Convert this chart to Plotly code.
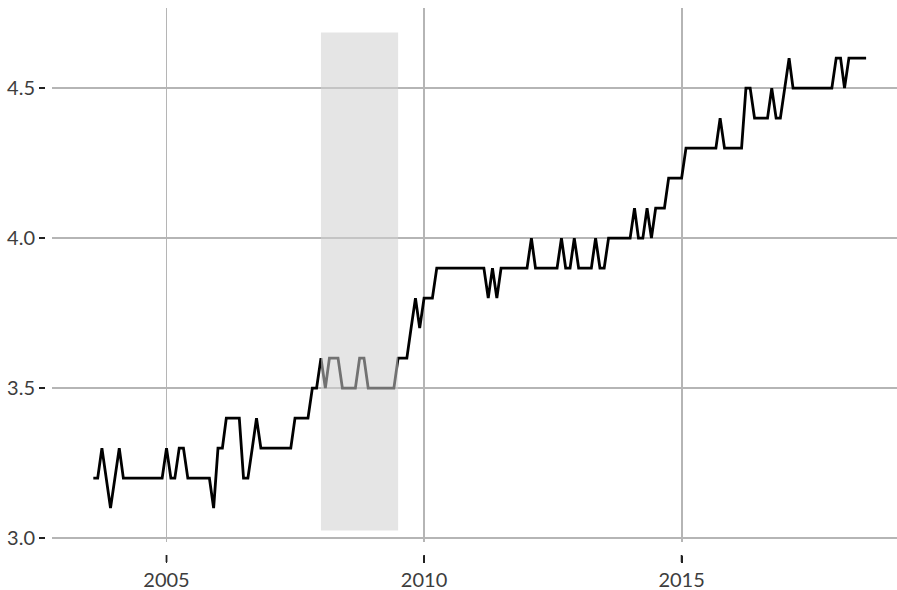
import pandas as pd
import plotly.graph_objects as go

# ---- data ----
start_month = "2003-08-01"
values = [
    3.2, 3.2, 3.3, 3.2, 3.1,                                      # 2003 Aug-Dec
    3.2, 3.3, 3.2, 3.2, 3.2, 3.2, 3.2, 3.2, 3.2, 3.2, 3.2, 3.2,  # 2004
    3.3, 3.2, 3.2, 3.3, 3.3, 3.2, 3.2, 3.2, 3.2, 3.2, 3.2, 3.1,  # 2005
    3.3, 3.3, 3.4, 3.4, 3.4, 3.4, 3.2, 3.2, 3.3, 3.4, 3.3, 3.3,  # 2006
    3.3, 3.3, 3.3, 3.3, 3.3, 3.3, 3.4, 3.4, 3.4, 3.4, 3.5, 3.5,  # 2007
    3.6, 3.5, 3.6, 3.6, 3.6, 3.5, 3.5, 3.5, 3.5, 3.6, 3.6, 3.5,  # 2008
    3.5, 3.5, 3.5, 3.5, 3.5, 3.5, 3.6, 3.6, 3.6, 3.7, 3.8, 3.7,  # 2009
    3.8, 3.8, 3.8, 3.9, 3.9, 3.9, 3.9, 3.9, 3.9, 3.9, 3.9, 3.9,  # 2010
    3.9, 3.9, 3.9, 3.8, 3.9, 3.8, 3.9, 3.9, 3.9, 3.9, 3.9, 3.9,  # 2011
    3.9, 4.0, 3.9, 3.9, 3.9, 3.9, 3.9, 3.9, 4.0, 3.9, 3.9, 4.0,  # 2012
    3.9, 3.9, 3.9, 3.9, 4.0, 3.9, 3.9, 4.0, 4.0, 4.0, 4.0, 4.0,  # 2013
    4.0, 4.1, 4.0, 4.0, 4.1, 4.0, 4.1, 4.1, 4.1, 4.2, 4.2, 4.2,  # 2014
    4.2, 4.3, 4.3, 4.3, 4.3, 4.3, 4.3, 4.3, 4.3, 4.4, 4.3, 4.3,  # 2015
    4.3, 4.3, 4.3, 4.5, 4.5, 4.4, 4.4, 4.4, 4.4, 4.5, 4.4, 4.4,  # 2016
    4.5, 4.6, 4.5, 4.5, 4.5, 4.5, 4.5, 4.5, 4.5, 4.5, 4.5, 4.5,  # 2017
    4.6, 4.6, 4.5, 4.6, 4.6, 4.6, 4.6, 4.6,                      # 2018 Jan-Aug
]
dates = pd.date_range(start_month, periods=len(values), freq="MS")

recession_start = "2008-01-01"
recession_end = "2009-07-01"
recession_low = 3.025
recession_high = 4.685

x_tick_vals = ["2005-01-01", "2010-01-01", "2015-01-01"]
x_tick_text = ["2005", "2010", "2015"]
y_tick_vals = [3.0, 3.5, 4.0, 4.5]
y_tick_text = ["3.0", "3.5", "4.0", "4.5"]

x_range = ["2002-10-12", "2019-03-08"]
y_range = [2.987, 4.767]

# ---- figure ----
fig = go.Figure()
fig.add_trace(go.Scatter(
    x=dates, y=values, mode="lines",
    line=dict(color="black", width=2.8),
    hoverinfo="skip", showlegend=False,
))
# empty helper trace that only carries the separated x tick axis
fig.add_trace(go.Scatter(
    x=[], y=[], xaxis="x2", yaxis="y2", mode="lines",
    hoverinfo="skip", showlegend=False,
))

fig.add_shape(
    type="rect", xref="x", yref="y",
    x0=recession_start, x1=recession_end,
    y0=recession_low, y1=recession_high,
    fillcolor="rgb(208,208,208)", opacity=0.55,
    line=dict(width=0), layer="above",
)

# small x tick marks below the panel, placed at the tick values
for tv in x_tick_vals:
    fig.add_shape(
        type="line", xref="x2", yref="paper",
        x0=tv, x1=tv, y0=0, y1=-0.013,
        line=dict(color="#222", width=1.8), layer="above",
    )

font_family = "Lato, 'Open Sans', sans-serif"
grid_color = "#b5b5b5"
x_domain = [0.0082, 1]
fig.update_layout(
    width=897, height=590,
    margin=dict(l=45, r=0, t=8, b=35),
    paper_bgcolor="white", plot_bgcolor="white",
    font=dict(family=font_family, size=20, color="#3d3d3d"),
    xaxis=dict(
        type="date", domain=x_domain, range=x_range,
        tickvals=x_tick_vals, showticklabels=False, ticks="",
        showgrid=True, gridcolor=grid_color, gridwidth=1.8,
        zeroline=False, showline=False, anchor="y",
    ),
    xaxis2=dict(
        type="date", domain=x_domain, range=x_range,
        tickvals=x_tick_vals, ticktext=x_tick_text,
        showgrid=False, zeroline=False, showline=False,
        ticks="outside", ticklen=7, tickwidth=1.8, tickcolor="#222",
        anchor="y2", automargin=False,
    ),
    yaxis=dict(
        range=y_range, domain=[0.0238, 1],
        tickvals=y_tick_vals, ticktext=y_tick_text,
        showgrid=True, gridcolor=grid_color, gridwidth=1.8,
        zeroline=False, showline=False,
        ticks="outside", ticklen=6, tickwidth=1.8, tickcolor="#222",
        anchor="free", position=0,
    ),
    yaxis2=dict(
        domain=[0, 0.0238], range=[0, 1], anchor="x2",
        showgrid=False, zeroline=False, showline=False,
        showticklabels=False, ticks="",
    ),
)

fig.write_html(
    "out.html",
    config={"displayModeBar": False, "staticPlot": True},
    post_script="document.body.style.margin='0';document.body.style.overflow='hidden';",
)
